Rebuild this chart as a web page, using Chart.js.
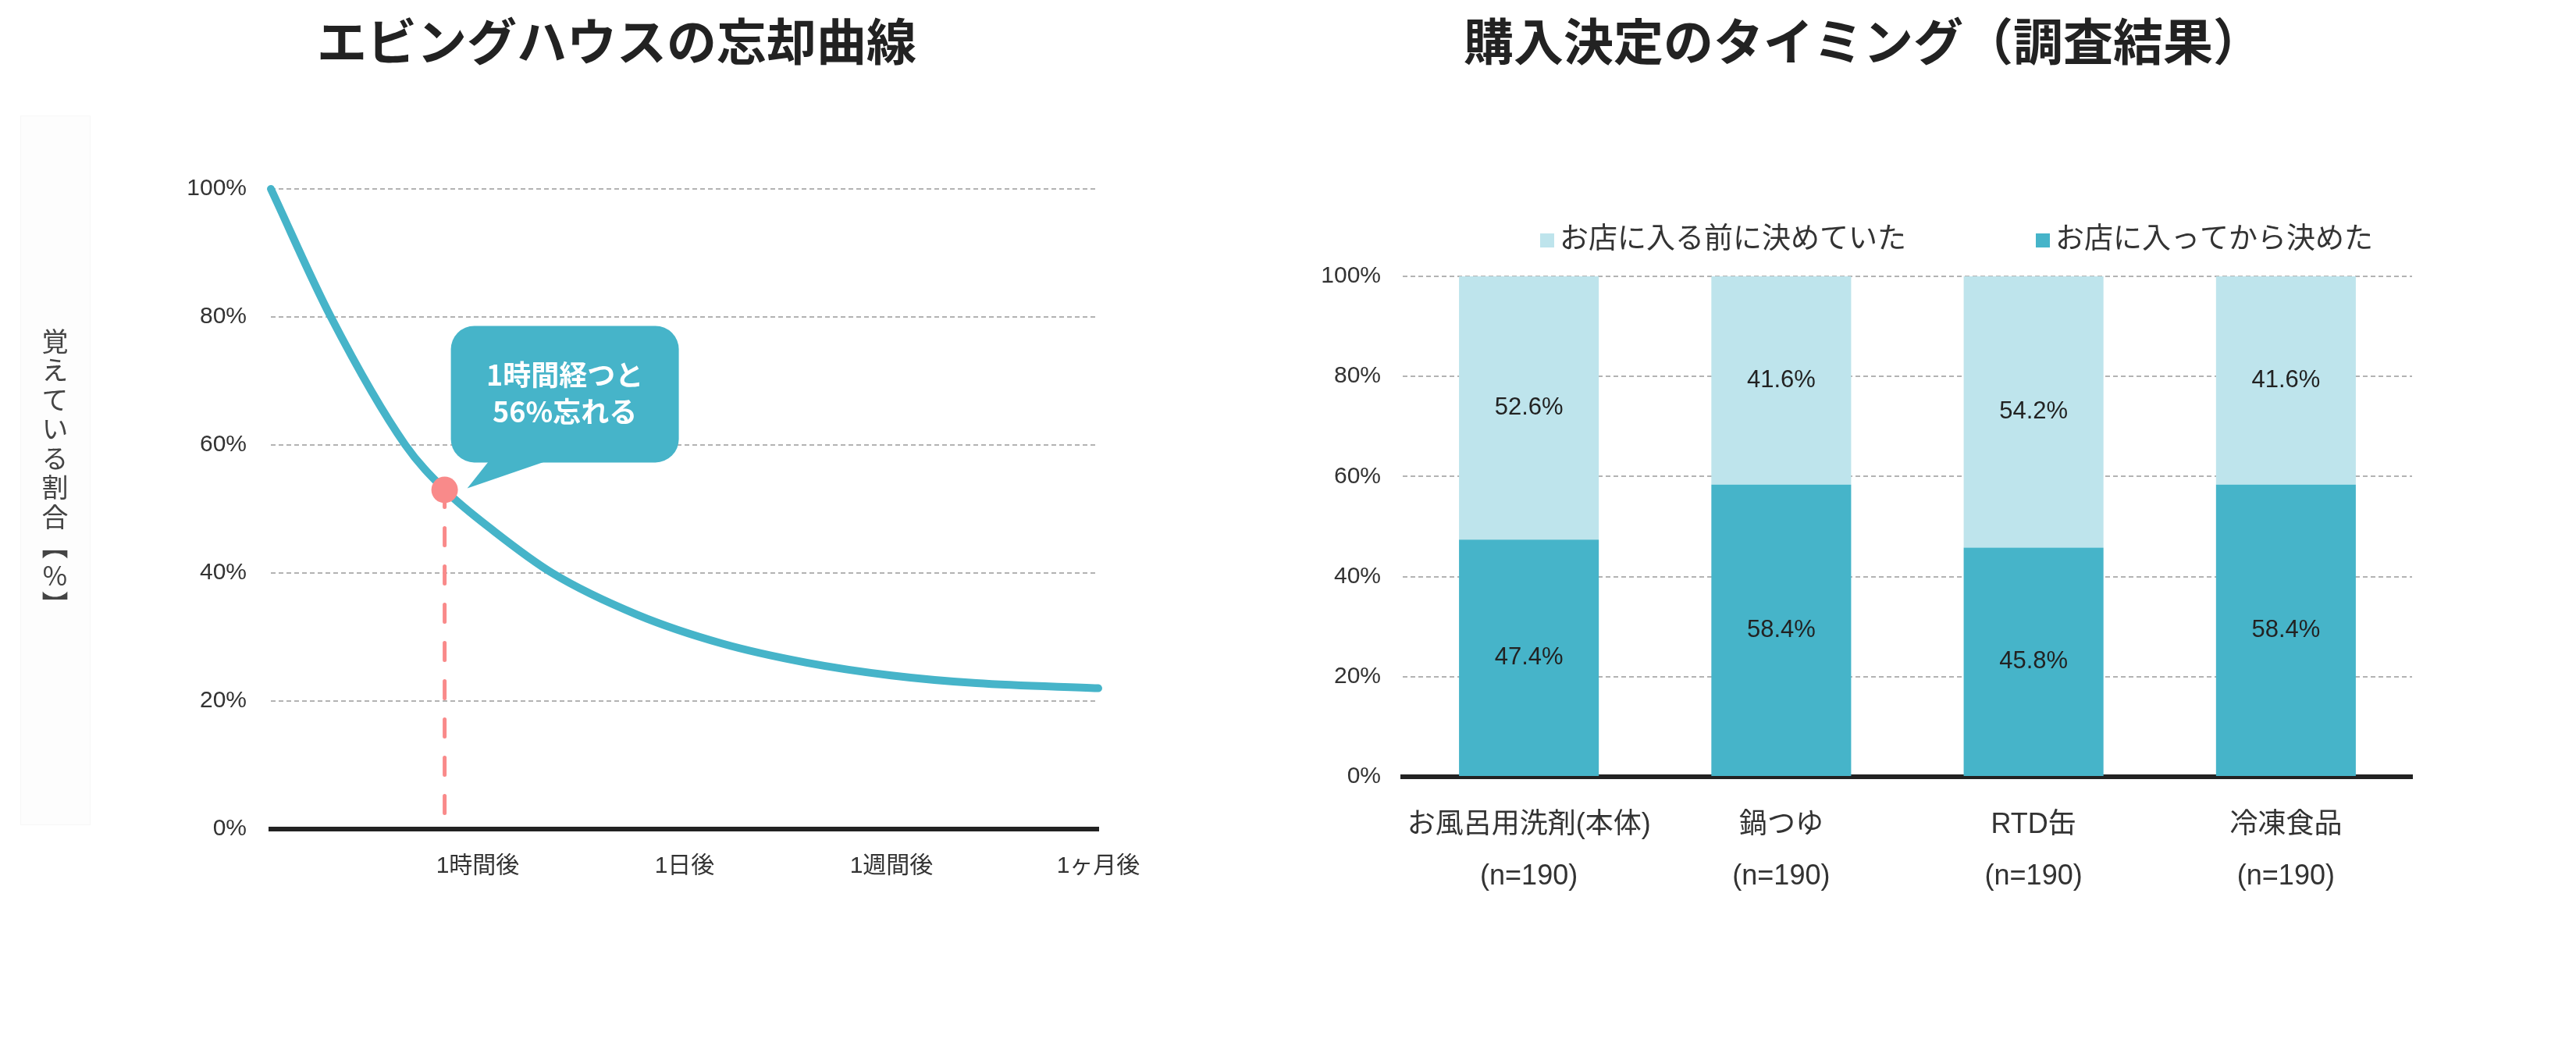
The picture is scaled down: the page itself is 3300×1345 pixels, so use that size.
<!DOCTYPE html>
<html lang="ja">
<head>
<meta charset="utf-8">
<title>エビングハウスの忘却曲線 / 購入決定のタイミング</title>
<script src="https://cdn.jsdelivr.net/npm/chart.js@4.4.1/dist/chart.umd.min.js"></script>
<style>
    html, body { margin: 0; padding: 0; background: #fff; }
    #page { position: relative; width: 3300px; height: 1345px; overflow: hidden; }
    .title {
        position: absolute; top: 10px; transform: translateX(-50%);
        font: 700 64px 'Noto Sans CJK JP', sans-serif; line-height: 78px;
        color: #222; white-space: nowrap;
    }
    #leftCanvas { position: absolute; left: 0; top: 0; }
    #rightCanvas { position: absolute; left: 1650px; top: 0; }
    #yTitleBg {
        position: absolute; left: 26px; top: 148px; width: 90px; height: 909px;
        background: #fdfdfd; border: 1px solid #f7f7f7; box-sizing: border-box;
    }
    #yTitle {
        position: absolute; left: 53px; top: 420px;
        writing-mode: vertical-rl; text-orientation: upright;
        font: 400 34px 'Noto Sans CJK JP', sans-serif; line-height: 34px;
        letter-spacing: 3.5px; color: #444;
    }
</style>
</head>
<body>
<div id="page">
    <div id="yTitleBg"></div>
    <canvas id="leftCanvas" width="1650" height="1345"></canvas>
    <canvas id="rightCanvas" width="1650" height="1345"></canvas>
    <div class="title" style="left:790px">エビングハウスの忘却曲線</div>
    <div class="title" style="left:2387px">購入決定のタイミング（調査結果）</div>
    <div id="yTitle">覚えている割合【%】</div>
</div>
<script>
// ── Data: forgetting curve ────────────────────────────────────────
const timeLabels = ['', '1時間後', '1日後', '1週間後', '1ヶ月後'];
const curveX = [0, 0.29, 0.65, 0.84, 1.08, 1.36, 1.77, 2.18, 2.59, 3.0, 3.41, 4.0];
const curveY = [100, 80, 60, 53, 46.5, 40, 33.5, 29, 26, 24, 22.8, 22];
const markerX = 0.84;
const markerY = 53;
const calloutLines = ['1時間経つと', '56%忘れる'];

// ── Data: purchase timing survey ──────────────────────────────────
const categories = ['お風呂用洗剤(本体)', '鍋つゆ', 'RTD缶', '冷凍食品'];
const sampleLabels = ['(n=190)', '(n=190)', '(n=190)', '(n=190)'];
const beforeLabel = 'お店に入る前に決めていた';
const afterLabel = 'お店に入ってから決めた';
const beforeDecided = [52.6, 41.6, 54.2, 41.6];
const afterEntering = [47.4, 58.4, 45.8, 58.4];
const percentTicks = [0, 20, 40, 60, 80, 100];

const TEAL = '#46b4c9';
const LIGHT = '#bee4ec';
const PINK = '#f98a8a';
const FONT = "'Liberation Sans', 'Noto Sans CJK JP', sans-serif";
const GRID = '#b3b3b3';

Chart.defaults.font.family = FONT;
Chart.defaults.color = '#333';

const baseOptions = {
    responsive: false,
    animation: false,
    devicePixelRatio: 1,
    events: [],
    plugins: { legend: { display: false }, tooltip: { enabled: false }, title: { display: false } },
};

const pctGrid = { color: c => c.tick.value === 0 ? 'rgba(0,0,0,0)' : GRID, lineWidth: 2, drawTicks: false };

// ── Callout bubble anchored to the 1-hour marker ──────────────────
const calloutPlugin = {
    id: 'callout',
    afterDatasetsDraw(chart) {
        const { ctx, scales: { x, y } } = chart;
        const px = x.getPixelForValue(markerX);
        const py = y.getPixelForValue(markerY);
        const l = px + 8, r = px + 300, t = py - 210, b = py - 35, rad = 30;
        ctx.save();
        ctx.fillStyle = TEAL;
        ctx.beginPath();
        ctx.moveTo(l + rad, t);
        ctx.arcTo(r, t, r, b, rad);
        ctx.arcTo(r, b, l, b, rad);
        ctx.arcTo(l, b, l, t, rad);
        ctx.arcTo(l, t, r, t, rad);
        ctx.closePath();
        ctx.fill();
        ctx.beginPath();
        ctx.moveTo(px + 56, b - 1);
        ctx.lineTo(px + 128, b - 1);
        ctx.lineTo(px + 29, py - 2);
        ctx.closePath();
        ctx.fill();
        ctx.fillStyle = '#fff';
        ctx.font = "700 36px 'Noto Sans CJK JP', sans-serif";
        ctx.textAlign = 'center';
        ctx.textBaseline = 'middle';
        calloutLines.forEach((s, i) => ctx.fillText(s, (l + r) / 2, py - 147 + i * 47));
        ctx.restore();
    }
};

// ── Forgetting curve chart ────────────────────────────────────────
new Chart(document.getElementById('leftCanvas'), {
    type: 'line',
    data: {
        datasets: [
            {
                data: [{ x: markerX, y: markerY }],
                showLine: false, pointRadius: 17, pointBackgroundColor: PINK, pointBorderWidth: 0,
                clip: false, order: 0,
            },
            {
                data: curveX.map((x, i) => ({ x, y: curveY[i] })),
                borderColor: TEAL, borderWidth: 10, pointRadius: 0,
                cubicInterpolationMode: 'monotone', borderCapStyle: 'round', borderJoinStyle: 'round',
                fill: false, clip: false, order: 1,
            },
            {
                data: [{ x: markerX, y: markerY }, { x: markerX, y: 0 }],
                borderColor: PINK, borderWidth: 5, borderDash: [22, 27], borderCapStyle: 'round',
                pointRadius: 0, fill: false, clip: false, order: 2,
            },
        ]
    },
    options: {
        ...baseOptions,
        layout: { padding: { left: 0, right: 243, top: 242, bottom: 0 } },
        scales: {
            x: {
                type: 'linear', min: 0, max: 4,
                ticks: { stepSize: 1, autoSkip: false, maxRotation: 0, padding: 30, font: { size: 30 },
                         callback: v => timeLabels[v] ?? '' },
                grid: { display: false, drawTicks: false },
                border: { display: true, color: '#222', width: 6 },
                afterFit: s => { s.height = 283; },
            },
            y: {
                min: 0, max: 100,
                afterBuildTicks: s => { s.ticks = percentTicks.map(value => ({ value })); },
                ticks: { padding: 31, font: { size: 30 }, callback: v => v + '%' },
                grid: pctGrid,
                border: { display: false, dash: [6, 4] },
                afterFit: s => { s.width = 347; },
            }
        }
    },
    plugins: [calloutPlugin]
});

// ── Value labels inside stacked bars ──────────────────────────────
const valueLabelPlugin = {
    id: 'valueLabels',
    afterDatasetsDraw(chart) {
        const { ctx } = chart;
        ctx.save();
        ctx.font = '31px ' + FONT;
        ctx.fillStyle = '#222';
        ctx.textAlign = 'center';
        ctx.textBaseline = 'middle';
        chart.data.datasets.forEach((ds, di) => {
            chart.getDatasetMeta(di).data.forEach((bar, i) => {
                ctx.fillText(ds.data[i].toFixed(1) + '%', bar.x, (bar.y + bar.base) / 2);
            });
        });
        ctx.restore();
    }
};

// ── Legend above the bars ─────────────────────────────────────────
const legendPlugin = {
    id: 'topLegend',
    afterDraw(chart) {
        const { ctx, chartArea } = chart;
        const items = chart.data.datasets.slice().reverse();
        let x = chartArea.left + 176;
        const yc = 308;
        ctx.save();
        ctx.font = '37px ' + FONT;
        ctx.textBaseline = 'middle';
        ctx.textAlign = 'left';
        items.forEach(ds => {
            ctx.fillStyle = ds.backgroundColor;
            ctx.fillRect(x, yc - 9, 18, 18);
            ctx.fillStyle = '#333';
            ctx.fillText(ds.label, x + 25, yc);
            x += 25 + ctx.measureText(ds.label).width + 166;
        });
        ctx.restore();
    }
};

// ── Purchase timing chart ─────────────────────────────────────────
new Chart(document.getElementById('rightCanvas'), {
    type: 'bar',
    data: {
        labels: categories.map((c, i) => [c, sampleLabels[i]]),
        datasets: [
            { label: afterLabel, data: afterEntering, backgroundColor: TEAL, barPercentage: 0.554, categoryPercentage: 1 },
            { label: beforeLabel, data: beforeDecided, backgroundColor: LIGHT, barPercentage: 0.554, categoryPercentage: 1 },
        ]
    },
    options: {
        ...baseOptions,
        layout: { padding: { left: 0, right: 210, top: 354, bottom: 0 } },
        scales: {
            x: {
                stacked: true,
                ticks: { padding: 29, maxRotation: 0, autoSkip: false, font: { size: 36, lineHeight: 66 / 36 } },
                grid: { display: false, drawTicks: false },
                border: { display: true, color: '#222', width: 6 },
                afterFit: s => { s.height = 350; },
            },
            y: {
                stacked: true, min: 0, max: 100,
                afterBuildTicks: s => { s.ticks = percentTicks.map(value => ({ value })); },
                ticks: { padding: 28, font: { size: 30 }, callback: v => v + '%' },
                grid: pctGrid,
                border: { display: false, dash: [6, 4] },
                afterFit: s => { s.width = 147; },
            }
        }
    },
    plugins: [valueLabelPlugin, legendPlugin]
});
</script>
</body>
</html>
